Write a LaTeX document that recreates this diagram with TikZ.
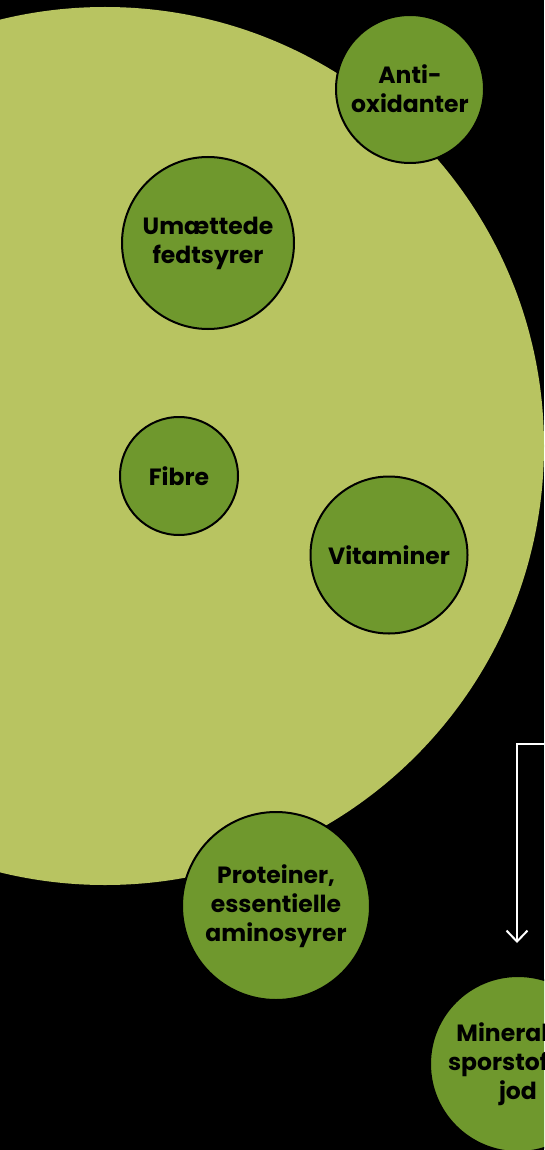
\documentclass[tikz,border=0pt]{standalone}
\usepackage{fontspec}
\setmainfont{Poppins}
\usetikzlibrary{arrows.meta}
\definecolor{lightg}{HTML}{B8C461}
\definecolor{darkg}{HTML}{6F982D}
\begin{document}
\begin{tikzpicture}[x=1pt,y=-1pt,
  bub/.style={circle, fill=darkg, draw=black, line width=2pt, inner sep=0pt,
    align=center, text=black, font=\bfseries\fontsize{23.5}{29}\selectfont}]
\fill[black] (0,0) rectangle (544,1150);
\useasboundingbox (0,0) rectangle (544,1150);
\begin{scope}
\clip (0,0) rectangle (544,1150);
\node[circle, fill=lightg, minimum size=878pt, inner sep=0pt] (main) at (105,446) {};
\node[bub, minimum size=148pt] (anti) at (410,89) {Anti-\\oxidanter};
\node[bub, minimum size=172pt] (umae) at (208,243) {Umættede\\fedtsyrer};
\node[bub, minimum size=118pt] (fibre) at (179,476) {Fibre};
\node[bub, minimum size=157pt] (vit) at (389,555) {Vitaminer};
\node[bub, minimum size=188pt] (prot) at (276,906) {Proteiner,\\essentielle\\aminosyrer};
\node[bub, minimum size=176pt] (min) at (518,1064) {Mineraler,\\sporstoffer,\\jod};
\coordinate (as) at (546,744);
\coordinate (ae) at (517,943);
\draw[white, line width=2pt, -{Straight Barb[length=11pt,width=21pt,line width=2pt]}] (as) -| (ae);
\end{scope}
\end{tikzpicture}
\end{document}
